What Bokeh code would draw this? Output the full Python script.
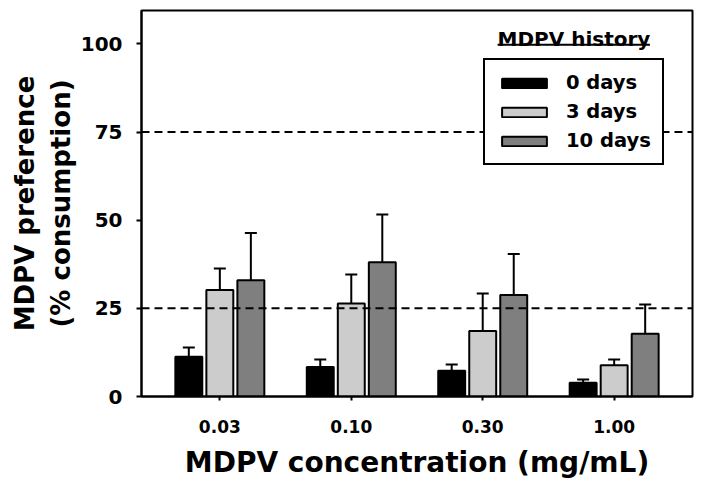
from bokeh.plotting import figure
from bokeh.models import (ColumnDataSource, FactorRange, Range1d, Whisker, TeeHead, Span,
                          Legend, LegendItem, Label, LinearAxis, FixedTicker)
from bokeh.transform import dodge
from bokeh.embed import file_html
from bokeh.resources import INLINE

# ---- data ----
concentrations = ["0.03", "0.10", "0.30", "1.00"]
history = ["0 days", "3 days", "10 days"]
pref_0d = [11.3, 8.4, 7.3, 3.9]
sem_0d = [2.6, 2.1, 1.8, 0.9]
pref_3d = [30.2, 26.4, 18.6, 8.9]
sem_3d = [6.1, 8.2, 10.6, 1.6]
pref_10d = [33.0, 38.1, 28.8, 17.8]
sem_10d = [13.4, 13.5, 11.6, 8.3]
y_ticks = [0, 25, 50, 75, 100]
ref_lines = [25, 75]

colors = ["#000000", "#cccccc", "#7f7f7f"]
offsets = [-0.236, 0.0, 0.236]
FONT = "DejaVu Sans"

p = figure(width=700, height=488,
           x_range=FactorRange(factors=concentrations, range_padding=0.048),
           y_range=Range1d(0, 109.5),
           output_backend="svg", toolbar_location=None,
           min_border_left=141, min_border_right=8, min_border_top=10, min_border_bottom=92)

p.xgrid.grid_line_color = None
p.ygrid.grid_line_color = None
p.outline_line_color = "black"
p.outline_line_width = 2
p.outline_line_alpha = 1

renderers = []
series = [(pref_0d, sem_0d), (pref_3d, sem_3d), (pref_10d, sem_10d)]
for (vals, errs), col, off in zip(series, colors, offsets):
    src = ColumnDataSource(dict(conc=concentrations, top=vals,
                                upper=[v + e for v, e in zip(vals, errs)]))
    r = p.vbar(x=dodge("conc", off, range=p.x_range), top="top", bottom=0, width=0.205,
               source=src, fill_color=col, line_color="black", line_width=2)
    renderers.append(r)
    w = Whisker(base=dodge("conc", off, range=p.x_range), lower="top", upper="upper",
                source=src, dimension="height", line_width=2, line_color="black",
                upper_head=TeeHead(size=12, line_width=2, line_color="black"), lower_head=None)
    p.add_layout(w)

for v in ref_lines:
    p.add_layout(Span(location=v, dimension="width", line_color="black",
                      line_width=2, line_dash="8 5"))

legend = Legend(items=[LegendItem(label=h, renderers=[r]) for h, r in zip(history, renderers)],
                location=(342, 231), border_line_color="black", border_line_width=2,
                border_line_alpha=1, background_fill_alpha=1, background_fill_color="white",
                padding=11, spacing=6, glyph_width=56, glyph_height=12, label_standoff=14,
                label_text_font=FONT, label_text_font_style="bold",
                label_text_font_size="19.5px", label_text_color="black", margin=0)
p.add_layout(legend)

p.add_layout(Label(x=3.194, y=101.5, text="MDPV history", text_align="center",
                   text_baseline="alphabetic", text_font=FONT, text_font_style="bold",
                   text_font_size="20px", text_color="black"))
p.segment(x0=[2.613], x1=[3.772], y0=[99.8], y1=[99.8], line_width=2, line_color="black")

# axes
for ax in (p.xaxis[0], p.yaxis[0]):
    ax.axis_line_width = 2
    ax.major_tick_line_width = 2
    ax.major_tick_in = 0
    ax.minor_tick_line_color = None
    ax.major_label_text_font = FONT
    ax.major_label_text_font_style = "bold"
    ax.major_label_text_color = "black"
    ax.axis_label_text_font = FONT
    ax.axis_label_text_font_style = "bold"
    ax.axis_label_text_color = "black"

p.xaxis.major_tick_out = 4
p.xaxis.major_label_text_font_size = "17px"
p.xaxis.major_label_standoff = 19
p.xaxis.axis_label = "MDPV concentration (mg/mL)"
p.xaxis.axis_label_text_font_size = "28px"
p.xaxis.axis_label_standoff = 10

p.yaxis.ticker = FixedTicker(ticks=y_ticks)
p.yaxis.major_tick_out = 5
p.yaxis.major_label_text_font_size = "20px"
p.yaxis.major_label_standoff = 14
p.yaxis.axis_label = "(% consumption)"
p.yaxis.axis_label_text_font_size = "26px"
p.yaxis.axis_label_standoff = 2

outer = LinearAxis(axis_label="MDPV preference", ticker=FixedTicker(ticks=[]),
                   axis_line_color=None, major_tick_line_color=None,
                   minor_tick_line_color=None, axis_label_standoff=3,
                   axis_label_text_font=FONT, axis_label_text_font_style="bold",
                   axis_label_text_font_size="26px", axis_label_text_color="black")
p.add_layout(outer, "left")

open("out.html", "w").write(file_html(p, INLINE))
